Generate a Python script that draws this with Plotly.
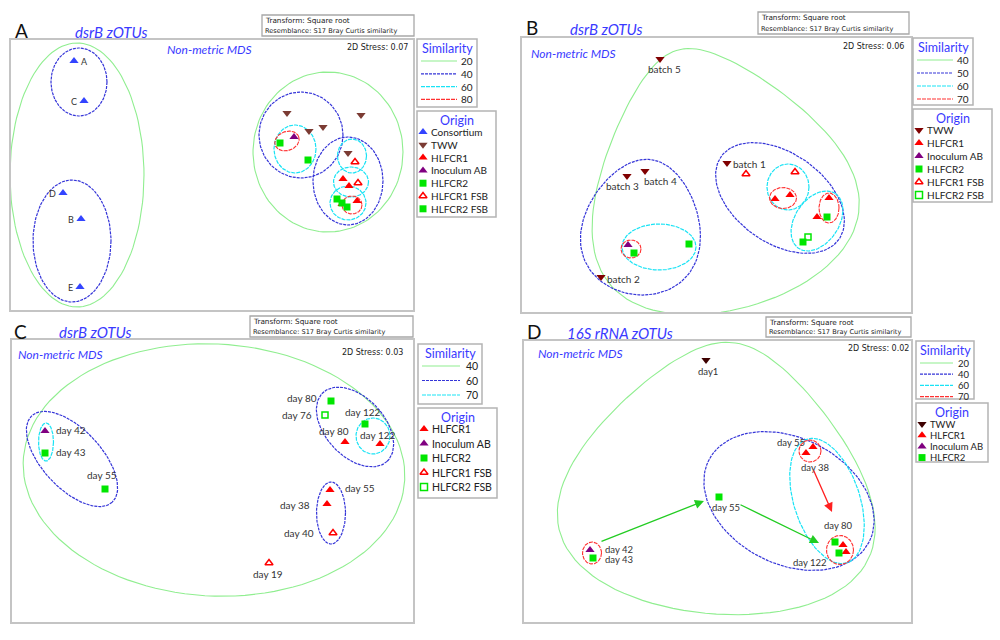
import numpy as np
import plotly.graph_objects as go

W, H = 1000, 640

# ===================== DATA (ordination positions) =====================
# ---- Panel A : dsrB zOTUs ----
A_cons_x = [74, 84, 63, 81, 80]
A_cons_y = [61, 101, 193, 219, 287]
A_cons_lab = ['A', 'C', 'D', 'B', 'E']
A_tww_x = [287, 309, 323, 361, 348]
A_tww_y = [113, 131, 127, 115, 153]
A_r1_x = [343, 349, 357, 342]
A_r1_y = [179, 186, 201, 204]
A_inoc_x = [294]
A_inoc_y = [137]
A_r2_x = [280, 308, 337]
A_r2_y = [143, 160, 199]
A_r1fsb_x = [355, 358]
A_r1fsb_y = [162, 183]
A_r2fsb_x = [342, 347]
A_r2fsb_y = [203, 207]
A_levels = ['20', '40', '60', '80']

# ---- Panel B : dsrB zOTUs ----
B_tww_x = [727, 601, 627, 645, 660]
B_tww_y = [163, 277, 176, 171, 59]
B_tww_lab = ['batch 1', 'batch 2', 'batch 3', 'batch 4', 'batch 5']
B_r1_x = [775, 790, 829, 817]
B_r1_y = [199, 195, 198, 217]
B_inoc_x = [628]
B_inoc_y = [245]
B_r2_x = [634, 689, 827, 803]
B_r2_y = [253, 244, 217, 242]
B_r1fsb_x = [746, 795]
B_r1fsb_y = [174, 172]
B_r2fsb_x = [808]
B_r2fsb_y = [237]
B_levels = ['40', '50', '60', '70']

# ---- Panel C : dsrB zOTUs ----
C_r1_x = [345, 380, 330, 327]
C_r1_y = [442, 444, 490, 504]
C_r1_lab = ['day 80', 'day 122', 'day 55', 'day 38']
C_inoc_x = [45]
C_inoc_y = [431]
C_inoc_lab = ['day 42']
C_r2_x = [45, 105, 331, 365]
C_r2_y = [453, 489, 401, 424]
C_r2_lab = ['day 43', 'day 55', 'day 80', 'day 122']
C_r1fsb_x = [333, 269]
C_r1fsb_y = [533, 563]
C_r1fsb_lab = ['day 40', 'day 19']
C_r2fsb_x = [325]
C_r2fsb_y = [415]
C_r2fsb_lab = ['day 76']
C_levels = ['40', '60', '70']

# ---- Panel D : 16S rRNA zOTUs ----
D_tww_x = [706]
D_tww_y = [360]
D_r1_x = [806, 813, 843, 846]
D_r1_y = [453, 447, 545, 552]
D_inoc_x = [590]
D_inoc_y = [550]
D_r2_x = [593, 719, 835, 839]
D_r2_y = [558, 497, 542, 553]
D_levels = ['20', '40', '60', '70']
# trajectories (tail x, tail y, head x, head y)
D_arrow_tx = [600, 739, 813]
D_arrow_ty = [542, 504, 469]
D_arrow_hx = [704, 819, 832]
D_arrow_hy = [501, 543, 512]
D_arrow_col = ['#22cc22', '#22cc22', '#ff2020']

# ---- similarity contours: (cx, cy, rx, ry, egg_factor, tilt_deg) per level ----
A_contours = [
    [(77, 175, 67, 132, 0, 0), (328, 152, 75, 80, 0, 0)],
    [(79, 82, 28, 34, 0, 0), (72, 241, 39, 61, 0, 0), (301, 135, 42, 43, 0, 0), (348, 181, 35, 44, 0, 0)],
    [(295, 149, 21, 24, 0, 0), (352, 156, 14.5, 17, 0, 0), (351, 182, 17.5, 15, 0, 0), (348, 203, 18, 17, 0, 0)],
    [(287, 141, 12.5, 9.5, 0, -20), (352, 205, 10, 9, 0, 0)],
]
B_contours = [
    [(714, 178, 126, 133, 0.42, -16)],
    [(642, 227, 59, 68, 0.18, 8), (780, 198, 72, 45, 0, 35)],
    [(659, 247, 37, 23, 0, 0), (788, 187, 21, 23, 0, 0), (817, 221, 33, 22, 0, -56)],
    [(631, 249, 10, 9, 0, 0), (783, 198, 13.5, 10.5, 0, 0), (829, 208, 10, 15, 0, 0)],
]
C_contours = [
    [(214, 470, 191, 126, 0, 3)],
    [(72, 459, 59, 29.5, 0, 47), (355, 427, 47, 29.5, 0, 47), (331, 513, 14.5, 31, 0, 0)],
    [(46, 442, 7.5, 19, 0, 0), (373, 436, 17, 18, 0, 0)],
]
D_contours = [
    [(720, 478, 149, 136, 0.4, 5)],
    [(789, 501, 90, 63, 0, 27)],
    [(827, 501, 65, 33, 0, 72)],
    [(810, 451, 11, 11, 0, 0), (840, 550, 13.5, 14.5, 0, 0), (592, 553, 9.5, 11, 0, 0)],
]

# ===================== STYLE =====================
FONT = 'Lato'
BLUE_TXT = '#3a3aff'
LVL_STYLE = [
    dict(color='#90ee90', width=1.1, dash='solid'),
    dict(color='#3535d8', width=1.2, dash='3px,1px'),
    dict(color='#19e3f5', width=1.2, dash='4px,1px'),
    dict(color='#ff3030', width=1.1, dash='4px,1px'),
]
RED, PURPLE, GREEN, CONS = '#ff0000', '#800080', '#00e600', '#3344ff'

fig = go.Figure()

BOXES = [(11, 40, 413, 310), (522, 38, 911, 312), (12, 340, 413, 622), (524, 341, 911, 622)]
layout_axes = {}
for i, (x0, y0, x1, y1) in enumerate(BOXES, start=1):
    sx = '' if i == 1 else str(i)
    common = dict(showgrid=False, zeroline=False, showticklabels=False, ticks='',
                  showline=True, mirror=True, linecolor='#c4c4c4', linewidth=1.6, fixedrange=True)
    layout_axes['xaxis' + sx] = dict(domain=[x0 / W, x1 / W], range=[x0, x1], anchor='y' + sx, **common)
    layout_axes['yaxis' + sx] = dict(domain=[1 - y1 / H, 1 - y0 / H], range=[y1, y0], anchor='x' + sx, **common)
# overlay axis for legends / decorations (whole figure, pixel units)
layout_axes['xaxis5'] = dict(domain=[0, 1], range=[0, W], anchor='y5', visible=False, fixedrange=True)
layout_axes['yaxis5'] = dict(domain=[0, 1], range=[H, 0], anchor='x5', visible=False, fixedrange=True)


def axref(i):
    return ('x' if i == 1 else 'x%d' % i), ('y' if i == 1 else 'y%d' % i)


def contour_pts(cx, cy, rx, ry, egg, tilt, n=120):
    t = np.linspace(0, 2 * np.pi, n)
    a = np.deg2rad(tilt)
    ex = rx * np.cos(t) * (1 + egg * np.sin(t))
    ey = ry * np.sin(t)
    return cx + ex * np.cos(a) - ey * np.sin(a), cy + ex * np.sin(a) + ey * np.cos(a)


def add_contours(panel, contours):
    xr, yr = axref(panel)
    for lvl, ell in enumerate(contours):
        if not ell:
            continue
        xs, ys = [], []
        for prm in ell:
            ex, ey = contour_pts(*prm)
            xs += list(ex) + [None]
            ys += list(ey) + [None]
        fig.add_trace(go.Scatter(x=xs, y=ys, mode='lines', line=LVL_STYLE[lvl], xaxis=xr, yaxis=yr,
                                 hoverinfo='skip', showlegend=False))


def add_pts(panel, xs, ys, symbol, color, size=8, openm=False):
    xr, yr = axref(panel)
    if openm:
        mk = dict(symbol=symbol + '-open', size=size, color=color, line=dict(width=1.5, color=color))
    else:
        mk = dict(symbol=symbol, size=size, color=color, line=dict(width=0))
    fig.add_trace(go.Scatter(x=xs, y=ys, mode='markers', marker=mk, xaxis=xr, yaxis=yr,
                             hoverinfo='skip', showlegend=False))


annotations = []
shapes = []


def txt(x, y, s, size=10, color='#333333', anchor='left', family=FONT, ref=('x5', 'y5')):
    annotations.append(dict(x=x, y=y, xref=ref[0], yref=ref[1], text=s, showarrow=False,
                            xanchor=anchor, yanchor='middle', borderpad=0,
                            font=dict(family=family, size=size, color=color)))


# ---------------- Panel A ----------------
add_contours(1, A_contours)
add_pts(1, A_cons_x, A_cons_y, 'triangle-up', CONS, 8)
add_pts(1, A_tww_x, A_tww_y, 'triangle-down', '#7b3b33', 8)
add_pts(1, A_r1_x, A_r1_y, 'triangle-up', RED, 8)
add_pts(1, A_inoc_x, A_inoc_y, 'triangle-up', PURPLE, 8)
add_pts(1, A_r2_x, A_r2_y, 'square', GREEN, 7)
add_pts(1, A_r2fsb_x, A_r2fsb_y, 'square', GREEN, 7)
add_pts(1, A_r1fsb_x, A_r1fsb_y, 'triangle-up', RED, 7, openm=True)
for x, y, s in zip(A_cons_x, A_cons_y, A_cons_lab):
    if s == 'A':
        txt(x + 6, y, s, 9, ref=('x', 'y'))
    else:
        txt(x - 6, y, s, 9, anchor='right', ref=('x', 'y'))

# ---------------- Panel B ----------------
add_contours(2, B_contours)
add_pts(2, B_tww_x, B_tww_y, 'triangle-down', '#800000', 8)
add_pts(2, B_r1_x, B_r1_y, 'triangle-up', RED, 8)
add_pts(2, B_inoc_x, B_inoc_y, 'triangle-up', PURPLE, 8)
add_pts(2, B_r2_x, B_r2_y, 'square', GREEN, 7)
add_pts(2, B_r1fsb_x, B_r1fsb_y, 'triangle-up', RED, 7, openm=True)
add_pts(2, B_r2fsb_x, B_r2fsb_y, 'square', GREEN, 6, openm=True)
B_lab_dx = [5, 5, -5, 15, 4]
B_lab_dy = [1, 2, 10, 10, 10]
B_lab_anchor = ['left', 'left', 'center', 'center', 'center']
for x, y, s, dx, dy, an in zip(B_tww_x, B_tww_y, B_tww_lab, B_lab_dx, B_lab_dy, B_lab_anchor):
    txt(x + dx, y + dy, s, 10, anchor=an, ref=('x2', 'y2'))

# ---------------- Panel C ----------------
add_contours(3, C_contours)
add_pts(3, C_r1_x, C_r1_y, 'triangle-up', RED, 8)
add_pts(3, C_inoc_x, C_inoc_y, 'triangle-up', PURPLE, 8)
add_pts(3, C_r2_x, C_r2_y, 'square', GREEN, 7)
add_pts(3, C_r1fsb_x, C_r1fsb_y, 'triangle-up', RED, 7, openm=True)
add_pts(3, C_r2fsb_x, C_r2fsb_y, 'square', GREEN, 6, openm=True)
C_all_x = C_inoc_x + C_r2_x + C_r2fsb_x + C_r1_x + C_r1fsb_x
C_all_y = C_inoc_y + C_r2_y + C_r2fsb_y + C_r1_y + C_r1fsb_y
C_all_lab = C_inoc_lab + C_r2_lab + C_r2fsb_lab + C_r1_lab + C_r1fsb_lab
C_lab_dx = [10, 10, -3, -13, -2, -12, -11, -2, 14, -16, -18, -1]
C_lab_dy = [-1, -1, -14, -3, -12, 0, -11, -9, -2, 1, 0, 11]
C_lab_anchor = ['left', 'left', 'center', 'right', 'center', 'right', 'center', 'center', 'left', 'right', 'right', 'center']
for x, y, s, dx, dy, an in zip(C_all_x, C_all_y, C_all_lab, C_lab_dx, C_lab_dy, C_lab_anchor):
    txt(x + dx, y + dy, s, 10, anchor=an, ref=('x3', 'y3'))

# ---------------- Panel D ----------------
add_contours(4, D_contours)
add_pts(4, D_tww_x, D_tww_y, 'triangle-down', '#3d0000', 8)
add_pts(4, D_r1_x, D_r1_y, 'triangle-up', RED, 8)
add_pts(4, D_inoc_x, D_inoc_y, 'triangle-up', PURPLE, 8)
add_pts(4, D_r2_x, D_r2_y, 'square', GREEN, 7)
D_lab_x = [708, 604, 604, 711, 776, 800, 823, 792]
D_lab_y = [371, 549, 559, 507, 442, 467, 525, 562]
D_lab = ['day1', 'day 42', 'day 43', 'day 55', 'day 55', 'day 38', 'day 80', 'day 122']
D_lab_anchor = ['center', 'left', 'left', 'left', 'left', 'left', 'left', 'left']
for x, y, s, an in zip(D_lab_x, D_lab_y, D_lab, D_lab_anchor):
    txt(x, y, s, 9.5, anchor=an, ref=('x4', 'y4'))
for tx, ty, hx, hy, c in zip(D_arrow_tx, D_arrow_ty, D_arrow_hx, D_arrow_hy, D_arrow_col):
    annotations.append(dict(x=hx, y=hy, ax=tx, ay=ty, xref='x4', yref='y4', axref='x4', ayref='y4',
                            text='', showarrow=True, arrowhead=2, arrowsize=1.4, arrowwidth=1.3,
                            arrowcolor=c))

# ---------------- panel headers ----------------
PANEL_LETTER = ['A', 'B', 'C', 'D']
LETTER_X = [21, 532, 20, 534]
LETTER_Y = [30, 27, 331, 331]
TITLE = ['dsrB zOTUs', 'dsrB zOTUs', 'dsrB zOTUs', '16S rRNA zOTUs']
TITLE_X = [111, 606, 95, 620]
TITLE_Y = [32, 29, 332, 333]
NMDS_X = [209, 573, 60, 580]
NMDS_Y = [49, 53, 354, 353]
STRESS = ['0.07', '0.06', '0.03', '0.02']
STRESS_X = [409, 905, 404, 910]
STRESS_Y = [47, 46, 352, 348]
TRANS_BOX = [(262, 15, 414, 36), (758, 12, 909, 34), (250, 316, 413, 337), (766, 317, 911, 337)]
for i in range(4):
    txt(LETTER_X[i], LETTER_Y[i], PANEL_LETTER[i], 19, color='#111111', anchor='center')
    txt(TITLE_X[i], TITLE_Y[i], '<i>' + TITLE[i] + '</i>', 15, color=BLUE_TXT, anchor='center')
    txt(NMDS_X[i], NMDS_Y[i], '<i>Non-metric MDS</i>', 12, color=BLUE_TXT, anchor='center')
    txt(STRESS_X[i], STRESS_Y[i], '2D Stress: ' + STRESS[i], 8, color='#222222', anchor='right',
        family='DejaVu Sans')
    bx0, by0, bx1, by1 = TRANS_BOX[i]
    shapes.append(dict(type='rect', xref='x5', yref='y5', x0=bx0, y0=by0, x1=bx1, y1=by1,
                       line=dict(color='#a8a8a8', width=1.3)))
    txt(bx0 + 2, by0 + 5.5, 'Transform: Square root', 7.3, color='#222222', family='DejaVu Sans')
    txt(bx0 + 2, by1 - 5.5, 'Resemblance: S17 Bray Curtis similarity', 6.6, color='#222222',
        family='DejaVu Sans')

# ---------------- legends ----------------
SIM_BOX = [(417, 39, 477, 107), (913, 38, 973, 105), (418, 344, 482, 404), (916, 341, 974, 399)]
ORI_BOX = [(417, 111, 496, 217), (913, 109, 992, 202), (418, 408, 497, 498), (916, 403, 988, 462)]
ROW_STEP = [12.8, 13, 14.5, 11.2]
ROW_FONT = [10, 10, 10.5, 9.5]
LINE_LEN = [36, 36, 38, 33]
LEVELS = [A_levels, B_levels, C_levels, D_levels]
ORIGINS = [
    [('Consortium', 'triangle-up', CONS, False), ('TWW', 'triangle-down', '#7b3b33', False),
     ('HLFCR1', 'triangle-up', RED, False), ('Inoculum AB', 'triangle-up', PURPLE, False),
     ('HLFCR2', 'square', GREEN, False), ('HLFCR1 FSB', 'triangle-up', RED, True),
     ('HLFCR2 FSB', 'square', GREEN, False)],
    [('TWW', 'triangle-down', '#800000', False), ('HLFCR1', 'triangle-up', RED, False),
     ('Inoculum AB', 'triangle-up', PURPLE, False), ('HLFCR2', 'square', GREEN, False),
     ('HLFCR1 FSB', 'triangle-up', RED, True), ('HLFCR2 FSB', 'square', GREEN, True)],
    [('HLFCR1', 'triangle-up', RED, False), ('Inoculum AB', 'triangle-up', PURPLE, False),
     ('HLFCR2', 'square', GREEN, False), ('HLFCR1 FSB', 'triangle-up', RED, True),
     ('HLFCR2 FSB', 'square', GREEN, True)],
    [('TWW', 'triangle-down', '#3d0000', False), ('HLFCR1', 'triangle-up', RED, False),
     ('Inoculum AB', 'triangle-up', PURPLE, False), ('HLFCR2', 'square', GREEN, False)],
]
for i in range(4):
    sx0, sy0, sx1, sy1 = SIM_BOX[i]
    ox0, oy0, ox1, oy1 = ORI_BOX[i]
    step, fs = ROW_STEP[i], ROW_FONT[i]
    for (b0, c0, b1, c1) in (SIM_BOX[i], ORI_BOX[i]):
        shapes.append(dict(type='rect', xref='x5', yref='y5', x0=b0, y0=c0, x1=b1, y1=c1,
                           line=dict(color='#b4b4b4', width=1.5)))
    txt((sx0 + sx1) / 2, sy0 + 9, 'Similarity', 12.5, color=BLUE_TXT, anchor='center')
    for k, lv in enumerate(LEVELS[i]):
        yy = sy0 + 22 + k * step
        fig.add_trace(go.Scatter(x=[sx0 + 4, sx0 + 4 + LINE_LEN[i]], y=[yy, yy], mode='lines',
                                 line=LVL_STYLE[k], xaxis='x5', yaxis='y5', hoverinfo='skip',
                                 showlegend=False))
        txt(sx1 - 3, yy, lv, fs, color='#222222', anchor='right')
    txt((ox0 + ox1) / 2, oy0 + 9, 'Origin', 12.5, color=BLUE_TXT, anchor='center')
    for k, (nm, sym, col, op) in enumerate(ORIGINS[i]):
        yy = oy0 + 21 + k * step
        if op:
            mk = dict(symbol=sym + '-open', size=7, color=col, line=dict(width=1.5, color=col))
        else:
            mk = dict(symbol=sym, size=8 if 'triangle' in sym else 7, color=col, line=dict(width=0))
        fig.add_trace(go.Scatter(x=[ox0 + 6], y=[yy], mode='markers', marker=mk,
                                 xaxis='x5', yaxis='y5', hoverinfo='skip', showlegend=False))
        txt(ox0 + 13, yy, nm, fs, color='#222222')

fig.update_layout(
    width=W, height=H, margin=dict(l=0, r=0, t=0, b=0),
    paper_bgcolor='white', plot_bgcolor='rgba(0,0,0,0)',
    showlegend=False, annotations=annotations, shapes=shapes,
    font=dict(family=FONT), **layout_axes,
)

fig.write_html('out.html', config={'displayModeBar': False},
               post_script="document.body.style.margin='0';document.body.style.overflow='hidden';")
